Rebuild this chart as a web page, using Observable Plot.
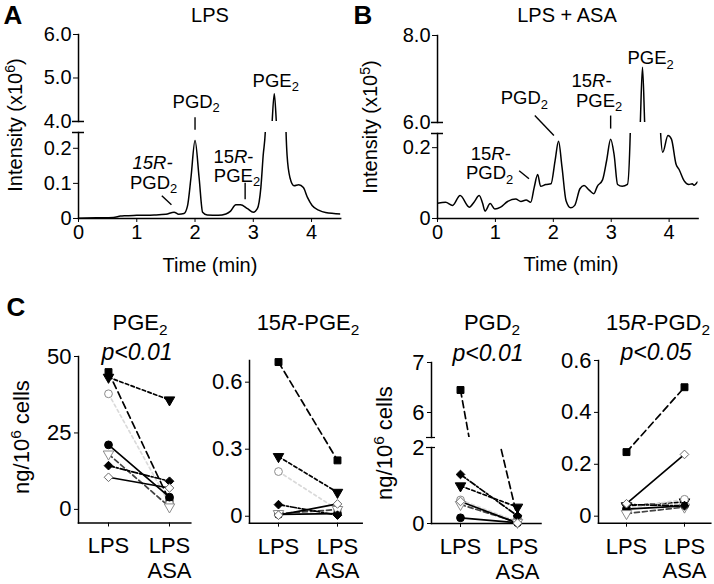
<!DOCTYPE html>
<html><head><meta charset="utf-8">
<script src="https://cdn.jsdelivr.net/npm/d3@7"></script>
<script src="https://cdn.jsdelivr.net/npm/@observablehq/plot@0.6"></script>
<style>
body{margin:0;background:#fff;}
#root{position:relative;width:714px;height:584px;overflow:hidden;font-family:"Liberation Sans",Arial,Helvetica,sans-serif;color:#000;}
.lbl{position:absolute;transform:translate(-50%,-50%);white-space:nowrap;line-height:1;}
.lbl sub{font-size:70%;vertical-align:-0.32em;line-height:0;}
.lbl sup{font-size:70%;vertical-align:0.5em;line-height:0;}
.rot{transform:translate(-50%,-50%) rotate(-90deg);}
</style></head><body><div id="root"></div>
<script>
// ---------------- DATA ----------------
// Panel A: LPS chromatogram (time in min, intensity x10^6)
const timeA = [0,0.3,0.6,0.72,0.8,1.0,1.3,1.5,1.64,1.72,1.81,1.87,1.93,2.0,2.07,2.13,2.21,2.4,2.53,2.61,2.7,2.78,2.9,3.0,3.07,3.13,3.17,3.21,3.32,3.36,3.40,3.56,3.58,3.63,3.70,3.78,3.86,3.93,4.01,4.13,4.24,4.5];
const intensityA = [0.001,0.002,0.003,0.007,0.008,0.009,0.01,0.012,0.018,0.012,0.014,0.035,0.116,0.222,0.116,0.018,0.01,0.009,0.013,0.021,0.039,0.039,0.028,0.018,0.028,0.088,0.18,0.26,3.9,4.64,3.9,0.26,0.18,0.116,0.093,0.096,0.088,0.06,0.037,0.023,0.017,0.013];
// Panel B: LPS + ASA chromatogram (intensity x10^5)
const timeB = [0,0.14,0.26,0.39,0.55,0.63,0.72,0.78,0.82,0.91,0.99,1.09,1.21,1.35,1.44,1.53,1.61,1.67,1.73,1.78,1.87,1.96,2.03,2.09,2.15,2.22,2.30,2.37,2.46,2.53,2.62,2.70,2.76,2.85,2.92,2.99,3.05,3.11,3.19,3.28,3.33,3.50,3.54,3.58,3.85,3.89,3.98,4.04,4.12,4.17,4.26,4.34,4.40,4.43,4.49];
const intensityB = [0.043,0.046,0.037,0.065,0.032,0.046,0.065,0.042,0.021,0.042,0.027,0.032,0.048,0.055,0.048,0.052,0.046,0.088,0.124,0.091,0.096,0.098,0.163,0.218,0.145,0.05,0.03,0.037,0.084,0.093,0.08,0.07,0.091,0.109,0.163,0.224,0.18,0.096,0.091,0.096,0.25,5.9,7.27,5.9,0.25,0.187,0.234,0.224,0.153,0.139,0.106,0.096,0.098,0.094,0.103];

const timeTicks = [0,1,2,3,4];
const timeTickLabels = ["0","1","2","3","4"];
const yTicksAlow = [0,0.1,0.2], yLabelsAlow = ["0","0.1","0.2"];
const yTicksAup = [4,5,6], yLabelsAup = ["4.0","5.0","6.0"];
const yTicksBlow = [0,0.2], yLabelsBlow = ["0","0.2"];
const yTicksBup = [6,8], yLabelsBup = ["6.0","8.0"];

// peak annotations (time, intensity)
const annotAup = [{t:2.02,v:4.44,text:"PGD_2"},{t:3.385,v:4.94,text:"PGE_2"}];
const annotAlow = [{t:1.27,v:0.157,text:"*15R-*"},{t:1.29,v:0.1,text:"PGD_2"},{t:2.66,v:0.174,text:"15*R*-"},{t:2.72,v:0.12,text:"PGE_2"}];
const leadAup = [{t1:2.0,v1:4.10,t2:2.0,v2:3.81}];
const leadAlow = [{t1:1.43,v1:0.065,t2:1.595,v2:0.039},{t1:2.86,v1:0.102,t2:2.86,v2:0.055}];
const annotBup = [{t:3.68,v:7.47,text:"PGE_2"},{t:2.66,v:6.96,text:"15*R*-"},{t:2.79,v:6.50,text:"PGE_2"},{t:1.50,v:6.55,text:"PGD_2"}];
const annotBlow = [{t:0.92,v:0.182,text:"15*R*-"},{t:0.90,v:0.127,text:"PGD_2"}];
const leadBup = [{t1:2.99,v1:6.16,t2:2.99,v2:5.86},{t1:1.68,v1:6.16,t2:2.01,v2:5.70}];
const leadBlow = [{t1:1.41,v1:0.135,t2:1.58,v2:0.112}];

// Panel C: paired donors (ng/10^6 cells)
const conditions = ["LPS","LPS+ASA"];
const conditionLabels = ["LPS","LPS\nASA"];
const donors = ["d1","d2","d3","d4","d5","d6","d7"];
const pge2LPS   = [44.9,43.2,37.8,21.1,18.1,14.3,10.5];
const pge2ASA   = [2.8,35.8,1.8,4.0,0.8,9.2,7.0];
const r15pge2LPS = [0.69,0.267,0.20,0.008,0.012,0.052,0.005];
const r15pge2ASA = [0.25,0.107,0.03,0.012,0.03,0.005,0.055];
const pgd2LPS   = [6.45,0.99,0.62,0.15,0.5,1.29,0.58];
const pgd2ASA   = [0.15,0.43,0.05,0.02,0.03,0.2,0.01];
const r15pgd2LPS = [0.247,0.04,0.03,0.027,0.01,0.045,0.048];
const r15pgd2ASA = [0.497,0.055,0.065,0.04,0.035,0.04,0.238];

// ---------------- STYLES ----------------
const markSymbol = ["square","triangle","circle","circle","triangle","diamond2","diamond2"];
const markRotate = [0,180,0,0,180,0,0];
const markFill   = ["black","black","white","black","white","black","white"];
const markStroke = ["black","black","#8a8a8a","black","#8a8a8a","black","#6a6a6a"];
const lineColor  = ["black","black","#dadada","black","#444","black","black"];
const lineDash   = ["7,4","3.5,2.5","3,3",null,"5,3","6,2,2,2",null];

const FONT = '"Liberation Sans", Arial, Helvetica, sans-serif';
const ANNOT_SIZE = 18.5;
const root = document.getElementById("root");

function richSvg(svg){
  svg.querySelectorAll("text").forEach(t=>{
    if (t.querySelector("tspan")) return;
    const s = t.textContent;
    if (!/[*_]/.test(s)) return;
    t.textContent = "";
    s.split(/(\*[^*]+\*|_\w)/).filter(p=>p).forEach(p=>{
      const ts = document.createElementNS("http://www.w3.org/2000/svg","tspan");
      if (p[0]==="*"){ ts.textContent=p.slice(1,-1); ts.setAttribute("font-style","italic"); }
      else if (p[0]==="_"){ ts.textContent=p.slice(1); ts.style.fontSize="0.7em"; ts.setAttribute("dy","0.32em"); }
      else ts.textContent=p;
      t.appendChild(ts);
    });
  });
}
function mount(svg,L,T){
  svg.style.position="absolute"; svg.style.left=L+"px"; svg.style.top=T+"px";
  svg.style.overflow="visible"; svg.style.background="transparent";
  root.appendChild(svg); richSvg(svg);
}
const baseStyle = (fs)=>({fontFamily:FONT, fontSize:fs+"px", background:"transparent", overflow:"visible", color:"black"});

function chromSegment({frame,xDomain,yDomain,yTicks,yLabels,time,intensity,texts,leaders,bottom,breakAt}){
  const [L,T,R,B] = frame;
  const trace = time.map((t,i)=>({t, v:intensity[i]}));
  const marks = [
    Plot.frame({anchor:"left", strokeWidth:1.5}),
    Plot.axisY({ticks:yTicks, tickFormat:v=>yLabels[yTicks.indexOf(v)], tickSize:5, tickPadding:2, label:null, fontSize:20}),
    Plot.ruleY([breakAt],{insetLeft:-6, insetRight:(R-L)-6, strokeWidth:1.5})
  ];
  if (bottom) marks.push(
    Plot.frame({anchor:"bottom", strokeWidth:1.5}),
    Plot.axisX({ticks:timeTicks, tickFormat:t=>timeTickLabels[timeTicks.indexOf(t)], tickSize:4, tickPadding:2, label:null, fontSize:20})
  );
  marks.push(
    Plot.line(trace,{x:"t",y:"v",clip:true,strokeWidth:1.5,curve:"monotone-x"}),
    Plot.link(leaders,{x1:"t1",y1:"v1",x2:"t2",y2:"v2",strokeWidth:1.4}),
    Plot.text(texts,{x:"t",y:"v",text:"text",fontSize:ANNOT_SIZE})
  );
  const svg = Plot.plot({
    width:R-L, height:B-T, margin:0,
    x:{domain:xDomain, axis: bottom ? undefined : null},
    y:{domain:yDomain},
    style:baseStyle(20), marks
  });
  mount(svg,L,T);
}

function cSegment({frame,yDomain,yTicks,yLabels,lps,asa,padding,align,bottom,breakAt}){
  const [L,T,R,B] = frame;
  const rows = [];
  donors.forEach((d,i)=>{ rows.push({i,c:conditions[0],v:lps[i]}); rows.push({i,c:conditions[1],v:asa[i]}); });
  const inDomain = r => r.v>=yDomain[0] && r.v<=yDomain[1];
  const marks = [
    Plot.frame({anchor:"left", strokeWidth:1.5}),
    Plot.axisY({ticks:yTicks, tickFormat:v=>yLabels[yTicks.indexOf(v)], tickSize:4, tickPadding:3, label:null, fontSize:22})
  ];
  if (bottom) marks.push(
    Plot.frame({anchor:"bottom", strokeWidth:1.5}),
    Plot.axisX({tickSize:4, tickPadding:9, tickFormat:c=>conditionLabels[conditions.indexOf(c)], label:null, fontSize:22, lineHeight:1.12})
  );
  if (breakAt !== undefined) marks.push(Plot.ruleY([breakAt],{insetLeft:-5, insetRight:(R-L)-4, strokeWidth:1.2}));
  donors.forEach((d,i)=>marks.push(Plot.line(rows.filter(r=>r.i===i),{x:"c",y:"v",stroke:lineColor[i],strokeDasharray:lineDash[i]||undefined,strokeWidth:1.7,clip:true})));
  marks.push(Plot.dot(rows.filter(inDomain),{x:"c",y:"v",symbol:r=>markSymbol[r.i],rotate:r=>markRotate[r.i],fill:r=>markFill[r.i],stroke:r=>markStroke[r.i],r:3.9,strokeWidth:1}));
  const svg = Plot.plot({
    width:R-L, height:B-T, margin:0,
    x:{type:"point", domain:conditions, padding, align, axis: bottom ? undefined : null},
    y:{domain:yDomain},
    symbol:{type:"identity"},
    style:baseStyle(22), marks
  });
  mount(svg,L,T);
}

// ---------------- PANEL A ----------------
chromSegment({frame:[77.7,34,339.9,121], xDomain:[0,4.5], yDomain:[4,6], yTicks:yTicksAup, yLabels:yLabelsAup,
  time:timeA, intensity:intensityA, texts:annotAup, leaders:leadAup, bottom:false, breakAt:4});
chromSegment({frame:[77.7,132,339.9,218], xDomain:[0,4.5], yDomain:[0,0.245], yTicks:yTicksAlow, yLabels:yLabelsAlow,
  time:timeA, intensity:intensityA, texts:annotAlow, leaders:leadAlow, bottom:true, breakAt:0.245});
// ---------------- PANEL B ----------------
chromSegment({frame:[436.7,35,697.3,122], xDomain:[0,4.5], yDomain:[6,8], yTicks:yTicksBup, yLabels:yLabelsBup,
  time:timeB, intensity:intensityB, texts:annotBup, leaders:leadBup, bottom:false, breakAt:6});
chromSegment({frame:[436.7,133,697.3,218], xDomain:[0,4.5], yDomain:[0,0.24], yTicks:yTicksBlow, yLabels:yLabelsBlow,
  time:timeB, intensity:intensityB, texts:annotBlow, leaders:leadBlow, bottom:true, breakAt:0.24});

// ---------------- PANEL C ----------------
cSegment({frame:[77.7,356,190,522.5], yDomain:[-4.45,50], yTicks:[0,25,50], yLabels:["0","25","50"],
  lps:pge2LPS, asa:pge2ASA, padding:0.42, align:0.577, bottom:true});
cSegment({frame:[249,360,361.7,522.7], yDomain:[-0.031,0.697], yTicks:[0,0.3,0.6], yLabels:["0","0.3","0.6"],
  lps:r15pge2LPS, asa:r15pge2ASA, padding:0.455, align:0.534, bottom:true});
cSegment({frame:[430.5,362,540,437], yDomain:[5.5,7], yTicks:[6,7], yLabels:["6","7"],
  lps:pgd2LPS, asa:pgd2ASA, padding:0.444, align:0.559, bottom:false, breakAt:5.5});
cSegment({frame:[430.5,446.5,540,522.5], yDomain:[0,2], yTicks:[0,2], yLabels:["0","2"],
  lps:pgd2LPS, asa:pgd2ASA, padding:0.444, align:0.559, bottom:true, breakAt:2});
cSegment({frame:[597.7,360,710,522.7], yDomain:[-0.027,0.6], yTicks:[0,0.2,0.4,0.6], yLabels:["0","0.2","0.4","0.6"],
  lps:r15pgd2LPS, asa:r15pgd2ASA, padding:0.463, align:0.519, bottom:true});

// ---------------- TEXT LABELS ----------------
const labels = [
  {html:"A", x:13, y:15, size:26, bold:true},
  {html:"B", x:363, y:15, size:26, bold:true},
  {html:"C", x:16, y:307, size:26, bold:true},
  {html:"LPS", x:210, y:15, size:20},
  {html:"LPS + ASA", x:567, y:15, size:20},
  {html:"Time (min)", x:210, y:265, size:20},
  {html:"Time (min)", x:571, y:264, size:20},
  {html:"Intensity (x10<sup>6</sup>)", x:15, y:125, size:20, rot:true},
  {html:"Intensity (x10<sup>5</sup>)", x:370, y:127, size:20, rot:true},
  {html:"PGE<sub>2</sub>", x:140, y:323, size:22},
  {html:"<i>p&lt;0.01</i>", x:137, y:352, size:23},
  {html:"15<i>R</i>-PGE<sub>2</sub>", x:308, y:323, size:22},
  {html:"PGD<sub>2</sub>", x:492, y:323, size:22},
  {html:"<i>p&lt;0.01</i>", x:488, y:353, size:23},
  {html:"15<i>R</i>-PGD<sub>2</sub>", x:658, y:323, size:22},
  {html:"<i>p&lt;0.05</i>", x:656, y:352, size:23},
  {html:"ng/10<sup>6</sup> cells", x:22, y:437, size:22, rot:true},
  {html:"ng/10<sup>6</sup> cells", x:385, y:443, size:22, rot:true}
];
labels.forEach(l=>{
  const d = document.createElement("div");
  d.className = "lbl" + (l.rot ? " rot" : "");
  d.style.left = l.x+"px"; d.style.top = l.y+"px";
  d.style.fontSize = l.size+"px";
  if (l.bold) d.style.fontWeight = "bold";
  d.innerHTML = l.html;
  root.appendChild(d);
});
</script>
</body></html>
